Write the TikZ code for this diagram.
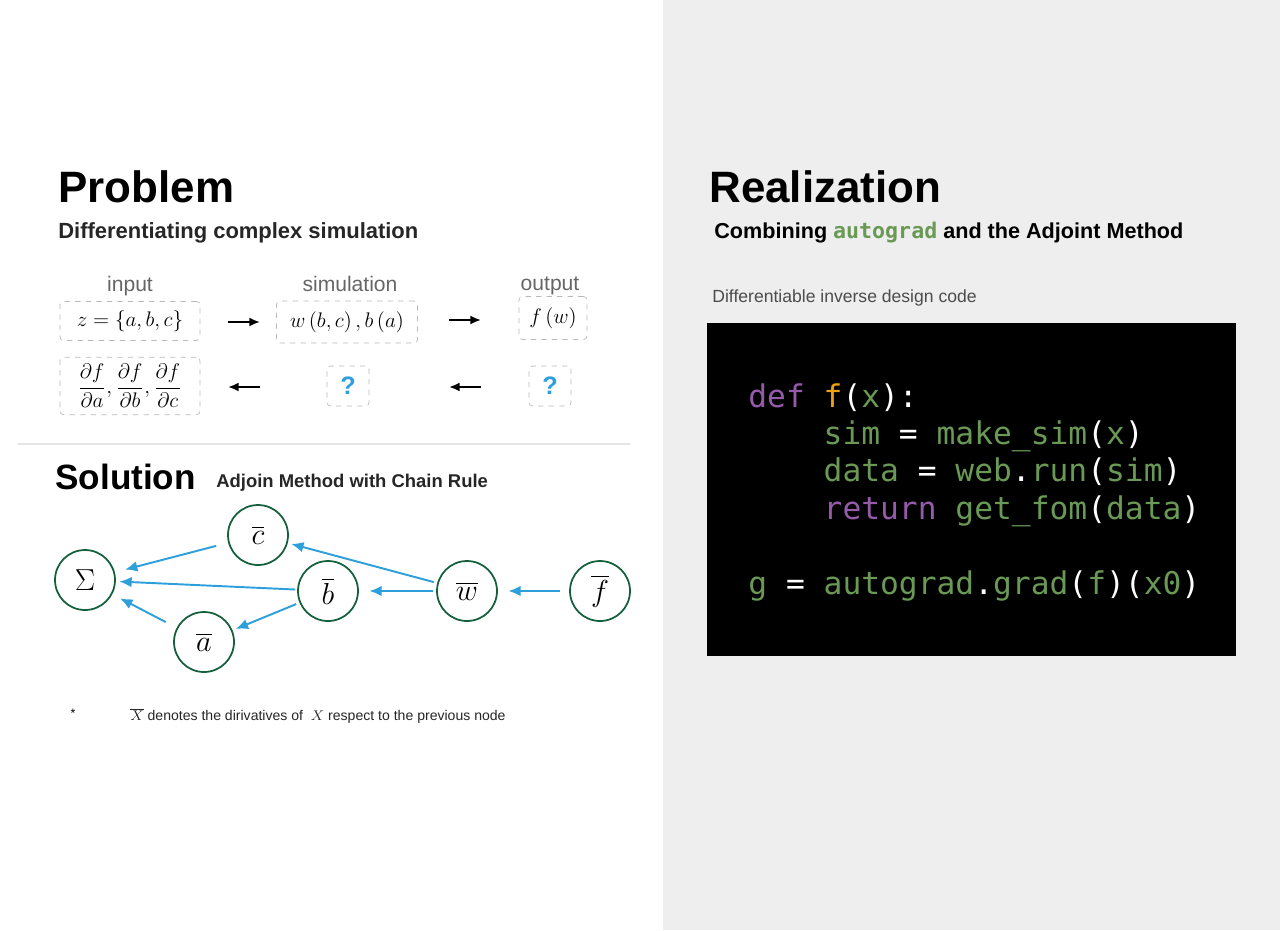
\documentclass[tikz,border=0pt]{standalone}
\usepackage{fontspec}
\usepackage{amsmath}
\setmainfont{Liberation Sans}
\newfontfamily\codefont{DejaVu Sans Mono}
\usetikzlibrary{positioning,arrows.meta}
\definecolor{panelgray}{RGB}{238,238,238}
\definecolor{circgreen}{RGB}{20,95,60}
\definecolor{arrblue}{RGB}{45,160,220}
\definecolor{codegreen}{RGB}{106,153,85}
\definecolor{codepurple}{RGB}{150,90,170}
\definecolor{codeorange}{RGB}{240,160,20}
\definecolor{boxgray}{RGB}{185,185,185}
\tikzset{
  dbox/.style={draw=boxgray, dashed, rounded corners=2pt, inner sep=4pt, font=\large},
  qbox/.style={dbox, font=\Large\bfseries, text=arrblue, minimum width=0.84cm, minimum height=0.8cm},
  var/.style={circle, draw=circgreen, line width=1pt, minimum size=1.2cm, font=\LARGE},
  grad/.style={-{Latex[length=7pt,width=6pt]}, arrblue, line width=1.1pt},
  flow/.style={-{Latex[length=6pt,width=5pt]}, line width=1.1pt},
  lbl/.style={text=black!60, font=\large, anchor=base}
}
\begin{document}
\begin{tikzpicture}[x=0.02cm, y=-0.02cm]
\useasboundingbox (0,0) rectangle (1280,930);
\fill[panelgray] (663,0) rectangle (1280,930);

% problem
\node[anchor=base west, inner sep=0pt, font=\fontsize{25}{28}\selectfont\bfseries] (probtitle) at (58,202) {Problem};
\node[anchor=base west, inner sep=0pt, font=\fontsize{12.5}{15}\selectfont\bfseries, text=black!85] (probsub) at (58,238) {Differentiating complex simulation};

\node[dbox, minimum width=2.8cm, minimum height=0.78cm] (zin) at (130,321) {$z=\{a,b,c\}$};
\node[dbox, minimum width=2.82cm, minimum height=0.84cm] (sim) at (347,322) {$w\left(b,c\right),b\left(a\right)$};
\node[dbox, minimum width=1.36cm, minimum height=0.86cm] (fout) at (553,318) {$f\left(w\right)$};
\node[lbl] (inlbl) at (130,291) {input};
\node[lbl] (simlbl) at (350,291) {simulation};
\node[lbl] (outlbl) at (550,290) {output};

\node[dbox, minimum width=2.8cm, minimum height=1.12cm] (dz) at (130,386) {$\dfrac{\partial f}{\partial a},\dfrac{\partial f}{\partial b},\dfrac{\partial f}{\partial c}$};
\node[qbox] (qsim) at (348,386) {?};
\node[qbox] (qout) at (550,386) {?};

\coordinate (f1s) at (228,322); \coordinate (f1e) at (260,322);
\coordinate (f2s) at (449,320); \coordinate (f2e) at (481,320);
\coordinate (b1s) at (260,387); \coordinate (b1e) at (228,387);
\coordinate (b2s) at (481,387); \coordinate (b2e) at (449,387);
\draw[flow] (f1s) -- (f1e);
\draw[flow] (f2s) -- (f2e);
\draw[flow] (b1s) -- (b1e);
\draw[flow] (b2s) -- (b2e);

\draw[black!10, line width=0.6pt] (18,444) -- (630,444);

% solution
\node[anchor=base west, inner sep=0pt, font=\fontsize{20}{24}\selectfont\bfseries] (soltitle) at (55,489) {Solution};
\node[anchor=base west, inner sep=0pt, font=\fontsize{10.5}{13}\selectfont\bfseries, text=black!85] (solsub) at (216,487) {Adjoin Method with Chain Rule};

\node[var] (sum) at (85,580) {$\Sigma$};
\node[var] (cbar) at (258,535) {$\overline{c}$};
\node[var] (bbar) at (328,591) {$\overline{b}$};
\node[var] (abar) at (204,642) {$\overline{a}$};
\node[var] (wbar) at (467,591) {$\overline{w}$};
\node[var] (fbar) at (600,591) {$\overline{f}$};

\draw[grad, shorten <=7pt, shorten >=6pt] (cbar) -- (sum);
\draw[grad, shorten <=1pt, shorten >=2pt] (bbar) -- (sum);
\draw[grad, shorten <=7pt, shorten >=5pt] (abar) -- (sum);
\draw[grad, shorten <=2pt, shorten >=2pt] (bbar) -- (abar);
\draw[grad, shorten <=2pt, shorten >=2pt] (wbar) -- (cbar);
\draw[grad, shorten <=2pt, shorten >=6pt] (wbar) -- (bbar);
\draw[grad, shorten <=5pt, shorten >=6pt] (fbar) -- (wbar);

\node[font=\scriptsize] (star) at (73,713) {*};
\node[anchor=west, font=\fontsize{8}{10}\selectfont, text=black!85, inner sep=0pt] (note) at (130,716) {$\overline{X}$ denotes the dirivatives of \ $X$ respect to the previous node};

% realization
\node[anchor=base west, inner sep=0pt, font=\fontsize{25}{28}\selectfont\bfseries] (realtitle) at (709,202) {Realization};
\node[anchor=base west, inner sep=0pt, font=\fontsize{12.3}{15}\selectfont\bfseries] (realsub) at (714,238) {Combining {\codefont\color{codegreen}autograd} and the Adjoint Method};
\node[anchor=base west, inner sep=0pt, font=\fontsize{10}{12}\selectfont, text=black!70] (codecap) at (712,302) {Differentiable inverse design code};

\fill[black] (707,323) rectangle (1236,656);
\node[anchor=north west, align=left, inner sep=0pt, text=white,
      font=\codefont\fontsize{17.8}{21.3}\selectfont] (code) at (748,383) {%
{\color{codepurple}def} {\color{codeorange}f}({\color{codegreen}x}):\\
\phantom{def }{\color{codegreen}sim} = {\color{codegreen}make\_sim}({\color{codegreen}x})\\
\phantom{def }{\color{codegreen}data} = {\color{codegreen}web}.{\color{codegreen}run}({\color{codegreen}sim})\\
\phantom{def }{\color{codepurple}return} {\color{codegreen}get\_fom}({\color{codegreen}data})\\
\strut\\
{\color{codegreen}g} = {\color{codegreen}autograd}.{\color{codegreen}grad}({\color{codegreen}f})({\color{codegreen}x0})};
\end{tikzpicture}
\end{document}
